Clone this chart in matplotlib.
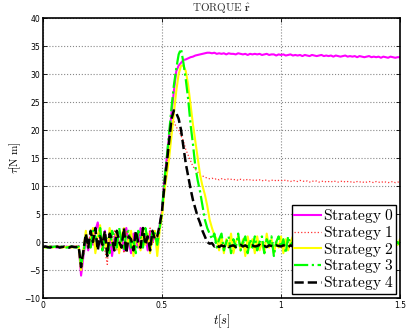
import numpy as np
import matplotlib
matplotlib.use("Agg")
import matplotlib.pyplot as plt

plt.rcParams['mathtext.fontset'] = 'cm'

# time grid, 10 ms sampling
t = np.round(np.arange(151) * 0.01, 2)

strategy_0 = [
    -0.9, -0.8, -1.0, -0.9, -0.8, -0.9, -1.0, -0.8, -0.9, -0.9,
    -0.8, -1.0, -0.9, -0.8, -0.9, -0.7, -6.0, -2.5, 0.5, -1.5,
    1.0, -0.5, 2.0, 3.5, 0.5, -1.5, 2.0, -1.0, 1.5, -2.5,
    0.5, 2.0, -1.0, 1.0, -1.5, 2.5, 0.0, -2.0, 1.5, 0.5,
    -1.0, 2.5, -0.5, 1.0, -1.5, 2.0, 0.0, 1.5, -1.0, 3.0,
    5.5, 11.0, 15.0, 19.0, 23.0, 27.0, 30.5, 31.5, 32.0, 32.5,
    32.6, 32.8, 33.0, 33.1, 33.3, 33.4, 33.5, 33.6, 33.7, 33.8,
    33.8, 33.7, 33.8, 33.6, 33.7, 33.6, 33.7, 33.5, 33.7, 33.6,
    33.6, 33.5, 33.7, 33.6, 33.5, 33.6, 33.4, 33.6, 33.5, 33.6,
    33.5, 33.6, 33.4, 33.5, 33.6, 33.4, 33.5, 33.5, 33.3, 33.5,
    33.4, 33.5, 33.3, 33.4, 33.5, 33.3, 33.4, 33.3, 33.4, 33.2,
    33.4, 33.3, 33.2, 33.4, 33.3, 33.2, 33.3, 33.4, 33.2, 33.3,
    33.2, 33.3, 33.1, 33.3, 33.2, 33.1, 33.2, 33.3, 33.1, 33.2,
    33.1, 33.2, 33.0, 33.2, 33.1, 33.0, 33.1, 33.2, 33.0, 33.1,
    33.0, 33.1, 32.9, 33.1, 33.0, 32.9, 33.1, 33.0, 32.9, 33.0, 33.0]

strategy_1 = [
    -0.8, -0.9, -0.8, -1.0, -0.9, -0.8, -0.9, -0.9, -1.0, -0.8,
    -0.9, -0.8, -0.9, -1.0, -0.8, -0.9, -4.5, -1.0, 1.5, -0.5,
    2.0, 0.0, 1.0, -1.0, 2.5, 0.5, -1.5, -4.0, 1.0, 0.0,
    2.0, -1.5, 1.0, 0.5, -2.0, 2.0, -0.5, 1.5, 0.0, -1.0,
    2.0, 0.5, -1.0, 1.5, 0.0, 2.5, -0.5, 1.0, 0.5, 2.5,
    5.0, 10.0, 13.5, 17.0, 20.0, 21.5, 20.5, 20.0, 19.0, 18.0,
    16.5, 15.5, 14.5, 13.5, 13.0, 12.5, 12.0, 11.8, 11.6, 11.4,
    11.3, 11.4, 11.2, 11.3, 11.1, 11.3, 11.2, 11.1, 11.3, 11.2,
    11.1, 11.2, 11.0, 11.2, 11.1, 11.0, 11.2, 11.1, 11.0, 11.1,
    11.0, 11.1, 10.9, 11.1, 11.0, 10.9, 11.0, 11.1, 10.9, 11.0,
    11.0, 10.9, 11.1, 10.9, 10.8, 11.0, 10.9, 10.8, 11.0, 10.9,
    10.8, 10.9, 10.7, 10.9, 10.8, 10.9, 10.7, 10.8, 10.9, 10.7,
    10.8, 10.7, 10.9, 10.8, 10.7, 10.8, 10.9, 10.7, 10.8, 10.7,
    10.8, 10.6, 10.8, 10.7, 10.8, 10.6, 10.7, 10.8, 10.7, 10.6,
    10.8, 10.7, 10.6, 10.8, 10.7, 10.6, 10.7, 10.8, 10.6, 10.7, 10.7]

strategy_2 = [
    -0.9, -1.0, -0.9, -0.8, -1.0, -0.9, -0.8, -0.9, -1.0, -0.9,
    -0.9, -0.8, -1.0, -0.9, -0.8, -0.9, -5.0, -1.5, 2.0, -1.0,
    0.5, 2.5, -2.0, 1.0, 3.0, -1.0, 1.5, -2.5, 2.5, 0.0,
    -1.5, 2.0, -2.0, 1.0, 2.5, -1.5, 0.5, 2.0, -2.5, 1.5,
    0.0, -1.5, 2.5, -0.5, 1.5, -2.0, 1.0, 2.0, -2.5, 2.0,
    4.5, 9.0, 12.0, 15.0, 19.0, 23.0, 27.0, 30.0, 31.5, 31.5,
    30.5, 28.0, 24.5, 21.0, 18.0, 15.0, 12.0, 10.0, 8.5, 6.5,
    4.0, 2.5, 1.2, 0.5, -1.5, 1.0, -2.0, 0.5, -1.0, 1.5,
    -2.0, 0.0, 1.0, -1.5, 0.5, -2.5, 1.0, -1.0, 0.5, -2.0,
    1.0, -1.5, 0.0, -2.0, 1.5, -1.0, 0.5, -2.0, 0.0, -1.0,
    1.0, -2.0, 0.5, -1.5, 0.0, 1.0, -2.0, 0.0, -1.0, 1.5,
    -1.5, 0.5, -2.0, 0.0, 1.0, -1.5, -0.5, 1.0, -2.0, 0.0,
    -1.0, 1.0, -1.5, 0.5, -2.0, 0.5, -1.0, 1.0, -1.5, 0.0,
    -2.0, 0.5, -1.0, 1.0, -1.5, -0.5, 0.5, -2.0, 0.0, -1.0,
    1.0, -1.5, 0.0, -2.0, 0.5, -1.0, 1.0, -1.5, 0.0, -0.5, 0.5]

strategy_3 = [
    -0.8, -0.9, -1.0, -0.8, -0.9, -0.8, -1.0, -0.9, -0.8, -0.9,
    -1.0, -0.9, -0.8, -0.9, -1.0, -0.8, -4.0, -2.0, 1.0, 0.0,
    -1.0, 2.0, 1.0, -0.5, 2.5, -1.5, 1.0, 0.5, -2.0, 2.0,
    1.0, -1.0, 2.5, 0.0, -1.5, 1.5, 2.0, -1.0, 0.5, -2.0,
    2.0, 1.0, -1.0, 2.5, 0.5, -1.0, 2.0, 1.5, -0.5, 2.5,
    5.5, 11.0, 15.0, 19.5, 24.0, 28.0, 31.0, 33.5, 34.5, 32.0,
    29.0, 25.5, 21.0, 17.5, 13.5, 11.0, 9.0, 6.5, 4.0, 2.5,
    1.5, 0.5, 1.5, -1.0, 0.5, 1.5, -1.5, 0.0, 1.0, -2.0,
    0.5, -1.0, 1.5, -1.5, 0.0, 1.0, -2.0, 0.5, -1.0, 1.0,
    -1.5, 0.0, 1.0, -2.0, 0.5, -0.5, 1.0, -2.5, 0.0, 1.0,
    -1.0, 0.5, -2.0, 1.0, -0.5, 0.0, -1.5, 1.0, -1.0, 0.5,
    -2.0, 1.0, -0.5, -1.5, 0.5, 1.0, -2.0, 0.0, -1.0, 1.0,
    -0.5, -2.0, 0.5, 1.0, -1.5, 0.0, -1.0, 1.5, -2.0, 0.5,
    0.0, -1.5, 1.0, -0.5, -2.0, 0.5, 1.0, -1.0, 0.0, -1.5,
    0.5, -1.0, 1.0, -2.0, 0.0, 0.5, -1.5, 1.0, -0.5, 0.0, -0.5]

strategy_4 = [
    -0.9, -0.8, -0.9, -1.0, -0.8, -0.9, -0.8, -1.0, -0.9, -0.8,
    -0.9, -1.0, -0.8, -0.9, -0.9, -0.8, -4.5, -1.5, 1.5, -1.0,
    2.0, 0.0, 2.5, -1.5, 1.0, -0.5, 2.0, -2.5, 1.5, 0.5,
    -1.5, 2.0, 0.0, -1.0, 2.5, -2.0, 1.0, 0.5, -1.5, 2.0,
    0.0, -1.0, 2.5, -0.5, 1.0, -1.5, 2.0, 0.5, 1.0, 3.0,
    5.5, 10.0, 14.0, 18.0, 22.0, 23.5, 23.0, 22.0, 20.0, 17.0,
    14.0, 11.7, 9.5, 7.5, 6.0, 4.5, 3.4, 2.0, 1.0, 0.0,
    -0.3, -0.2, -0.8, -0.5, -0.9, -0.6, -0.8, -0.5, -0.9, -0.7,
    -0.6, -0.9, -0.7, -0.5, -0.8, -0.6, -0.9, -0.7, -0.6, -0.8,
    -0.7, -0.5, -0.8, -0.7, -0.9, -0.6, -0.7, -0.8, -0.6, -0.7,
    -0.8, -0.6, -0.7, -0.9, -0.6, -0.8, -0.7, -0.5, -0.8, -0.7,
    -0.6, -0.8, -0.7, -0.9, -0.6, -0.7, -0.8, -0.6, -0.7, -0.9,
    -0.7, -0.6, -0.8, -0.7, -0.6, -0.8, -0.7, -0.9, -0.6, -0.7,
    -0.8, -0.7, -0.6, -0.8, -0.7, -0.6, -0.8, -0.7, -0.9, -0.6,
    -0.7, -0.8, -0.6, -0.7, -0.8, -0.6, -0.7, -0.8, -0.7, -0.6, -0.7]

labels = ['Strategy 0', 'Strategy 1', 'Strategy 2', 'Strategy 3', 'Strategy 4']
series = [strategy_0, strategy_1, strategy_2, strategy_3, strategy_4]
colors = ['#ff00ff', '#ff3030', '#ffff00', '#00ff00', '#000000']
styles = ['-', ':', '-', '-.', '--']
widths = [1.5, 0.9, 1.5, 1.6, 1.8]

fig = plt.figure(figsize=(4.07, 3.31), dpi=100)
ax = fig.add_axes([43/407, 33/331, 357/407, 280/331])

for y, lab, c, ls, lw in zip(series, labels, colors, styles, widths):
    ax.plot(t, y, color=c, linestyle=ls, linewidth=lw,
            label=r'$\mathrm{' + lab.replace(' ', r'\ ') + '}$')

ax.set_xlim(0, 1.5)
ax.set_ylim(-10, 40)
ax.set_xticks([0, 0.5, 1, 1.5])
ax.set_xticklabels(['0', '0.5', '1', '1.5'])
ax.set_yticks(np.arange(-10, 41, 5))
ax.tick_params(direction='in', top=True, right=True, length=3, width=0.6,
               labelsize=5.5, pad=2)
ax.grid(True, color='#888888', linestyle=':', linewidth=0.8)
for s in ax.spines.values():
    s.set_linewidth(1.2)

ax.set_title(r'$\mathrm{TORQUE}\ \hat{\mathbf{r}}$', fontsize=8, pad=4, color='#333333')
ax.set_xlabel(r'$t[s]$', fontsize=9, labelpad=2)
ax.set_ylabel(r'$\tau[\mathrm{N\ m}]$', fontsize=8, labelpad=1)

leg = ax.legend(loc='lower right', fontsize=11.2, labelspacing=-0.08,
                handlelength=1.7, handletextpad=0.15, borderpad=0.12,
                borderaxespad=0.25, fancybox=False, framealpha=1,
                edgecolor='black')
leg.get_frame().set_linewidth(1.0)

fig.savefig('out.png', dpi=100)
